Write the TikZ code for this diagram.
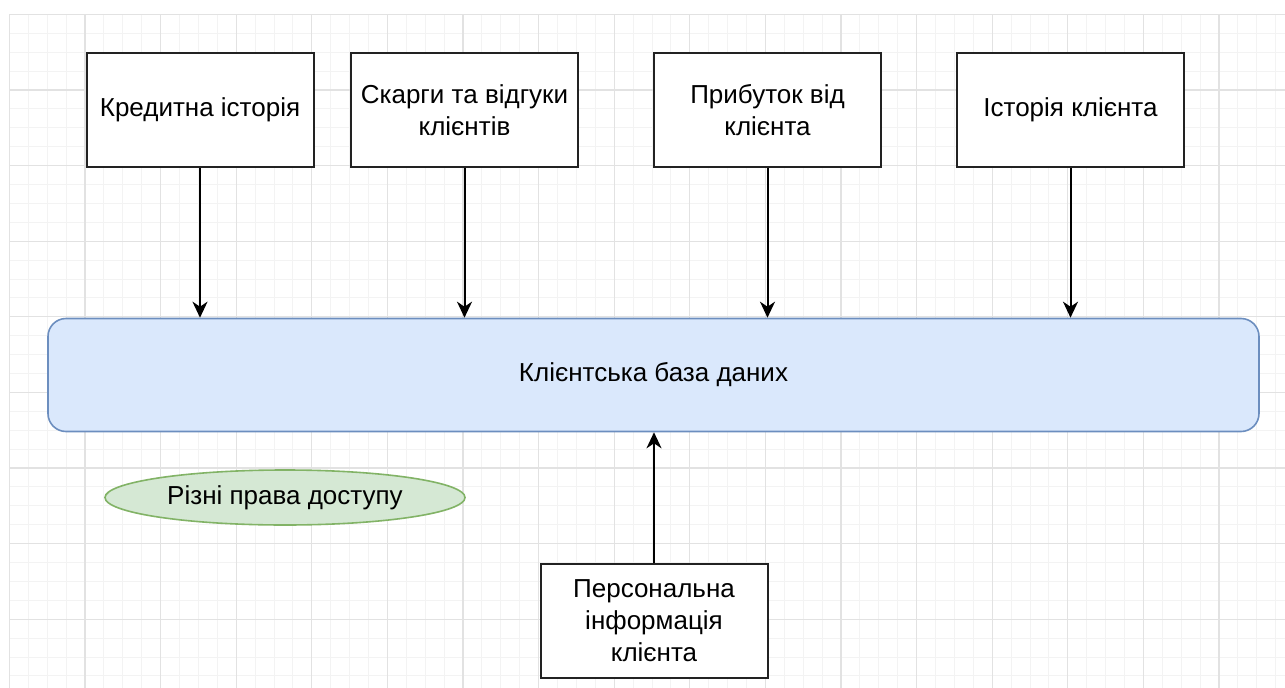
\documentclass[tikz,border=0pt]{standalone}
\usepackage{fontspec}
\setmainfont{Liberation Sans}
\usetikzlibrary{arrows.meta,shapes.geometric}
\definecolor{gridminor}{HTML}{F3F3F3}
\definecolor{gridmajor}{HTML}{E2E2E2}
\definecolor{dbfill}{HTML}{DAE8FC}
\definecolor{dbdraw}{HTML}{6C8EBF}
\definecolor{elfill}{HTML}{D5E8D4}
\definecolor{eldraw}{HTML}{82B366}
\definecolor{boxdraw}{HTML}{222222}
\tikzset{
  lbl/.style={font=\fontsize{26}{32}\selectfont},
  srcbox/.style={lbl, draw=boxdraw, line width=2pt, fill=white, minimum width=227pt,
    minimum height=114pt, align=center, inner sep=0pt},
  dbbox/.style={lbl, draw=dbdraw, line width=1.6pt, fill=dbfill, rounded corners=18pt,
    minimum width=1211pt, minimum height=113pt, inner sep=0pt},
  rights/.style={lbl, ellipse, draw=eldraw, line width=1.6pt, fill=elfill, minimum width=360pt,
    minimum height=55pt, inner sep=0pt},
  flow/.style={line width=2pt, -{Stealth[length=16pt,width=15pt,inset=5pt]}},
}
\begin{document}
\begin{tikzpicture}[x=1pt,y=-1pt]
  \useasboundingbox (0,0) rectangle (1285,688);
  \fill[white] (0,0) rectangle (1285,688);
  % background grid: minor and major lines
  \foreach \i in {0,...,67} {
    \pgfmathsetmacro{\gx}{9.4+18.9*\i}
    \draw[gridminor, line width=1pt] (\gx,14.4) -- (\gx,688);
  }
  \foreach \i in {0,...,35} {
    \pgfmathsetmacro{\gy}{14.4+18.9*\i}
    \draw[gridminor, line width=1pt] (9.4,\gy) -- (1285,\gy);
  }
  \foreach \i in {0,...,16} {
    \pgfmathsetmacro{\gx}{9.4+75.6*\i}
    \draw[gridmajor, line width=1.2pt] (\gx,14.4) -- (\gx,688);
  }
  \foreach \i in {0,...,8} {
    \pgfmathsetmacro{\gy}{14.4+75.6*\i}
    \draw[gridmajor, line width=1.2pt] (9.4,\gy) -- (1285,\gy);
  }

  % source boxes
  \node[srcbox] (credit) at (200,110) {Кредитна історія};
  \node[srcbox] (complaints) at (464.5,110) {Скарги та відгуки\\клієнтів};
  \node[srcbox] (profit) at (767.5,110) {Прибуток від\\клієнта};
  \node[srcbox] (history) at (1070.5,110) {Історія клієнта};

  % central database
  \node[dbbox] (db) at (653.5,375) {Клієнтська база даних};

  % access rights note
  \node[rights] (access) at (285,497.5) {Різні права доступу};

  % personal data box
  \node[srcbox] (personal) at (654,621) {Персональна\\інформація\\клієнта};

  % connectors
  \draw[flow] (credit.south) -- (credit.south |- db.north);
  \draw[flow] (complaints.south) -- (complaints.south |- db.north);
  \draw[flow] (profit.south) -- (profit.south |- db.north);
  \draw[flow] (history.south) -- (history.south |- db.north);
  \draw[flow] (personal.north) -- (personal.north |- db.south);
\end{tikzpicture}
\end{document}
